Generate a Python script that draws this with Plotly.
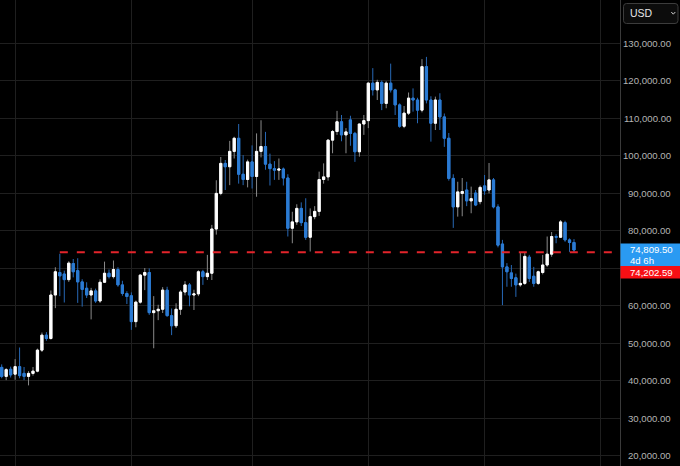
import pandas as pd
import plotly.graph_objects as go

# ---------------- data (weekly candles, USD, in thousands) ----------------
start_date = "2023-12-11"
open_k = [43.5, 41.1, 43.0, 41.7, 43.7, 41.9, 41.1, 41.9, 42.5, 48.1,
          52.1, 51.2, 62.8, 68.8, 68.4, 66.9, 71.2, 69.3, 66.3, 64.6,
          62.8, 63.9, 61.2, 66.2, 68.6, 67.7, 69.6, 65.5, 63.2, 62.6,
          55.7, 60.9, 68.1, 68.8, 58.1, 58.6, 59.0, 64.1, 57.3, 54.6,
          59.0, 63.6, 65.5, 62.8, 63.1, 69.0, 67.7, 68.6, 80.4, 89.9,
          97.9, 97.0, 101.1, 104.6, 95.0, 93.6, 98.3, 94.4, 101.1, 102.4,
          97.7, 96.5, 96.1, 96.4, 94.0, 80.6, 82.3, 85.9, 82.1, 78.2,
          83.7, 85.1, 93.6, 94.3, 104.1, 106.4, 109.0, 105.5, 109.5, 105.9,
          101.0, 108.4, 109.3, 119.3, 117.5, 119.5, 113.9, 119.3, 117.5, 113.5,
          107.8, 111.3, 115.3, 114.8, 112.1, 123.7, 114.8, 108.6, 114.8, 110.3,
          104.6, 93.9, 86.3, 89.9, 90.8, 87.9, 90.0, 87.7, 91.9, 90.8,
          93.5, 86.3, 76.4, 70.3, 68.7, 67.4, 65.5, 65.9, 72.9, 67.8,
          65.9, 68.8, 70.8, 73.7, 78.4, 78.2, 82.1, 77.5, 76.8]
high_k = [44.3, 43.3, 43.7, 45.7, 48.8, 43.6, 42.5, 43.6, 48.5, 52.8,
          52.9, 64.0, 70.2, 73.8, 69.3, 71.8, 72.4, 72.6, 67.0, 66.2,
          64.7, 64.5, 67.0, 71.7, 69.6, 72.0, 70.2, 66.6, 63.8, 63.5,
          61.3, 68.4, 70.0, 69.9, 62.5, 60.2, 64.9, 65.0, 59.2, 60.6,
          64.1, 66.5, 66.0, 64.2, 69.4, 69.5, 73.5, 81.5, 93.4, 99.6,
          98.8, 103.9, 105.0, 108.4, 100.1, 98.9, 102.7, 105.9, 109.4, 106.3,
          100.5, 98.5, 99.2, 96.8, 95.0, 85.0, 87.0, 87.5, 88.6, 85.9,
          86.5, 95.7, 97.9, 104.3, 106.8, 111.9, 110.8, 107.3, 110.6, 106.3,
          108.5, 110.8, 119.5, 123.3, 120.2, 120.0, 119.8, 124.5, 117.8, 113.9,
          113.2, 116.8, 117.9, 115.4, 125.7, 126.3, 115.8, 115.7, 116.6, 111.2,
          106.0, 95.0, 93.0, 94.0, 93.0, 91.7, 90.8, 92.0, 94.8, 98.0,
          94.0, 87.0, 77.5, 71.3, 70.8, 68.5, 74.0, 74.0, 73.5, 70.3,
          69.3, 73.5, 78.4, 79.6, 79.0, 82.8, 82.6, 77.9, 77.7]
low_k = [40.6, 40.1, 40.8, 40.2, 40.6, 40.1, 38.7, 41.3, 42.2, 47.6,
         50.6, 50.9, 59.3, 62.5, 60.8, 66.3, 67.5, 60.7, 59.7, 62.0,
         56.3, 60.7, 60.7, 66.0, 67.2, 67.2, 65.0, 62.6, 60.4, 53.5,
         54.2, 60.5, 64.1, 57.5, 48.6, 56.1, 58.0, 57.0, 52.1, 54.0,
         57.5, 62.7, 59.8, 58.8, 62.5, 65.5, 66.8, 66.8, 78.9, 89.4,
         90.8, 92.1, 99.2, 92.5, 92.1, 91.5, 91.2, 89.0, 99.5, 96.2,
         92.0, 93.5, 93.5, 92.0, 78.4, 76.6, 81.5, 81.2, 77.5, 74.4,
         83.0, 83.9, 92.5, 93.3, 100.6, 105.5, 103.8, 100.6, 102.6, 98.3,
         99.7, 105.5, 107.3, 116.0, 114.8, 112.1, 112.6, 116.8, 110.8, 107.4,
         107.3, 110.8, 111.7, 108.6, 111.5, 113.9, 103.7, 106.8, 106.8, 102.3,
         93.3, 80.7, 83.7, 83.8, 86.5, 84.6, 86.5, 87.0, 89.5, 89.9,
         85.9, 75.5, 60.1, 65.0, 65.0, 62.3, 65.0, 65.5, 66.3, 65.0,
         65.5, 68.3, 70.3, 73.0, 76.6, 78.0, 77.0, 74.3, 74.0]
close_k = [41.1, 42.9, 41.5, 43.7, 41.3, 41.1, 41.9, 42.5, 48.1, 52.1,
           51.2, 62.8, 69.0, 67.9, 66.9, 71.3, 69.0, 66.3, 64.3, 62.8,
           63.9, 61.2, 66.2, 68.6, 67.7, 69.6, 65.5, 63.2, 62.4, 55.7,
           60.9, 68.1, 68.8, 58.1, 58.6, 59.0, 64.1, 57.3, 54.6, 59.0,
           63.6, 65.5, 62.8, 63.1, 69.0, 67.7, 68.6, 80.4, 89.9, 97.9,
           97.0, 101.1, 104.6, 95.0, 93.6, 98.3, 94.4, 101.1, 102.4, 97.7,
           96.5, 96.1, 96.4, 94.0, 80.6, 82.3, 85.9, 82.1, 78.2, 83.7,
           85.1, 93.6, 94.3, 104.1, 106.4, 109.0, 105.5, 106.3, 105.9, 101.0,
           108.4, 109.3, 119.3, 117.5, 119.5, 113.9, 119.3, 117.5, 113.5, 107.8,
           111.3, 115.3, 114.8, 112.1, 123.7, 114.8, 108.6, 114.8, 110.3, 104.6,
           93.9, 86.3, 90.3, 90.4, 87.9, 88.5, 86.8, 91.5, 90.6, 93.5,
           86.3, 76.1, 70.3, 69.0, 67.2, 65.5, 65.9, 73.1, 67.2, 65.9,
           69.0, 70.8, 73.7, 78.4, 78.2, 82.3, 77.5, 76.8, 74.8095]

level_price = 74202.59          # red dashed level
level_start_index = 13          # candle where the level begins
countdown_text = "4d 6h"
currency_text = "USD"
tick_values = [20000, 30000, 40000, 50000, 60000, 70000, 80000,
               90000, 100000, 110000, 120000, 130000]
grid_dates = ["2024-01-01", "2024-07-01", "2025-01-06",
              "2025-07-07", "2026-01-05", "2026-07-06"]

# ---------------- build ----------------
dates = pd.date_range(start_date, periods=len(open_k), freq="7D")
o = [v * 1000 for v in open_k]
h = [v * 1000 for v in high_k]
l = [v * 1000 for v in low_k]
c = [v * 1000 for v in close_k]
body_hi = [max(a, b) for a, b in zip(o, c)]
body_lo = [min(a, b) for a, b in zip(o, c)]

W, H = 680, 466
PLOT_W = 620
UP, DN = "#ffffff", "#2b7bd3"
WICK_UP, WICK_DN = "#8a8a8a", "#2768b5"
LABEL = "#b4b4b4"
FONT = "Liberation Sans, Arial, sans-serif"

ppd = 4.471 / 7.0
d0 = dates[0]
x_start = d0 - pd.Timedelta(days=1.7 / ppd)
x_end = d0 + pd.Timedelta(days=(PLOT_W - 1.7) / ppd)
y_lo, y_hi = 17200, 141467


def val_to_py(v):
    return (y_hi - v) / (y_hi - y_lo) * H


fig = go.Figure()
fig.add_trace(go.Candlestick(
    x=dates, open=o, high=h, low=l, close=c, whiskerwidth=0,
    increasing=dict(line=dict(color=WICK_UP, width=1), fillcolor=WICK_UP),
    decreasing=dict(line=dict(color=WICK_DN, width=1), fillcolor=WICK_DN),
    hoverinfo="skip", showlegend=False))
fig.add_trace(go.Candlestick(
    x=dates, open=o, high=body_hi, low=body_lo, close=c, whiskerwidth=0,
    increasing=dict(line=dict(color=UP, width=1), fillcolor=UP),
    decreasing=dict(line=dict(color=DN, width=1), fillcolor=DN),
    hoverinfo="skip", showlegend=False))
fig.add_trace(go.Scatter(
    x=[dates[level_start_index], x_end], y=[level_price, level_price],
    mode="lines", line=dict(color="#e3242b", width=2, dash="8px,9px"),
    hoverinfo="skip", showlegend=False))


def px(xp):
    return xp / PLOT_W


def py(yp):
    return 1 - yp / H


BOX_TOP, BOX_MID, BOX_BOT = 243.5, 266.0, 278.5

annotations = []
for v in tick_values:
    yp = val_to_py(v)
    if BOX_TOP - 4 < yp < BOX_BOT + 4:
        continue  # hidden behind the price labels
    annotations.append(dict(
        x=px(672.5), xref="paper", y=v, yref="y", text=f"{v:,.2f}",
        showarrow=False, xanchor="right", yanchor="middle",
        font=dict(family=FONT, size=9.6, color=LABEL)))

shapes = []
# USD selector box (rounded)
x0, x1, y0, y1, r = px(623.5), px(678), py(3.5), py(23.5), 3
rx, ry = r / PLOT_W, r / H
path = (f"M{x0+rx},{y0} L{x1-rx},{y0} Q{x1},{y0} {x1},{y0-ry} "
        f"L{x1},{y1+ry} Q{x1},{y1} {x1-rx},{y1} L{x0+rx},{y1} "
        f"Q{x0},{y1} {x0},{y1+ry} L{x0},{y0-ry} Q{x0},{y0} {x0+rx},{y0} Z")
shapes.append(dict(type="path", xref="paper", yref="paper", path=path,
                   line=dict(color="#3c3c3c", width=1), fillcolor="#0c0c0c",
                   layer="above"))
shapes.append(dict(type="path", xref="paper", yref="paper",
                   path=f"M{px(671.3)},{py(12)} L{px(673.3)},{py(14.2)} L{px(675.3)},{py(12)}",
                   line=dict(color="#cfcfcf", width=1), layer="above"))
annotations.append(dict(x=px(627.5), xref="paper", y=py(13.5), yref="paper",
                        text=currency_text, showarrow=False, xanchor="left",
                        yanchor="middle",
                        font=dict(family=FONT, size=10.5, color="#e6e6e6")))
# current price / countdown label
shapes.append(dict(type="rect", xref="paper", yref="paper",
                   x0=px(620.5), x1=px(681), y0=py(BOX_MID), y1=py(BOX_TOP),
                   line=dict(width=0), fillcolor="#2a9af2", layer="above"))
shapes.append(dict(type="rect", xref="paper", yref="paper",
                   x0=px(620.5), x1=px(681), y0=py(BOX_BOT), y1=py(BOX_MID),
                   line=dict(width=0), fillcolor="#f70f14", layer="above"))
annotations.append(dict(x=px(627.5), xref="paper", y=py(249.8), yref="paper",
                        text=f"{c[-1]:,.2f}", showarrow=False, xanchor="left",
                        yanchor="middle",
                        font=dict(family=FONT, size=9.6, color="#ffffff")))
annotations.append(dict(x=px(627.5), xref="paper", y=py(260.8), yref="paper",
                        text=countdown_text, showarrow=False, xanchor="left",
                        yanchor="middle",
                        font=dict(family=FONT, size=9.6, color="#ffffff")))
annotations.append(dict(x=px(627.5), xref="paper", y=py(272.4), yref="paper",
                        text=f"{level_price:,.2f}", showarrow=False,
                        xanchor="left", yanchor="middle",
                        font=dict(family=FONT, size=9.6, color="#ffffff")))

fig.update_layout(
    width=W, height=H, paper_bgcolor="#000000", plot_bgcolor="#000000",
    margin=dict(l=0, r=W - PLOT_W, t=0, b=0, pad=0), showlegend=False,
    hovermode=False, dragmode=False, boxgap=0.3,
    font=dict(family=FONT, color=LABEL),
    xaxis=dict(type="date", range=[x_start, x_end], rangeslider=dict(visible=False),
               tickvals=grid_dates, showticklabels=False, showgrid=True,
               gridcolor="#1f1f1f", gridwidth=1, zeroline=False, showline=False,
               fixedrange=True),
    yaxis=dict(side="right", range=[y_lo, y_hi], tickvals=tick_values,
               showticklabels=False, showgrid=True, gridcolor="#1f1f1f",
               gridwidth=1, zeroline=False, showline=True, linecolor="#3a3a3a",
               linewidth=1, fixedrange=True),
    annotations=annotations, shapes=shapes)

fig.write_html(
    "out.html",
    config={"displayModeBar": False, "staticPlot": True},
    post_script="document.body.style.margin='0';document.body.style.background='#000';")
